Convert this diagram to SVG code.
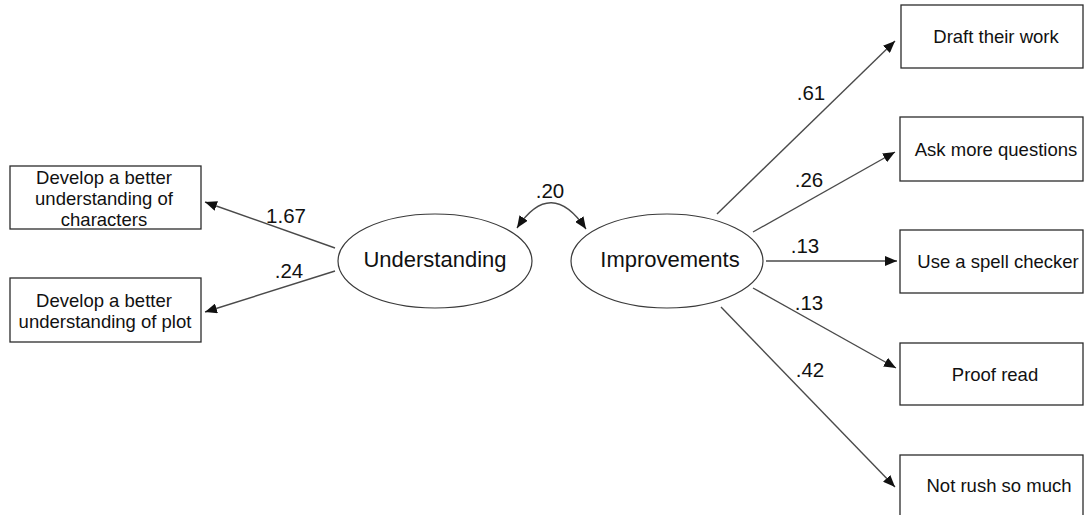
<svg xmlns="http://www.w3.org/2000/svg" width="1084" height="515" viewBox="0 0 1084 515">
  <style>
    .box { fill: #ffffff; stroke: #2b2b2b; stroke-width: 1.3; }
    .latent { fill: #ffffff; stroke: #3a3a3a; stroke-width: 1.2; }
    .boxtext { font-family: "Liberation Sans", Arial, sans-serif; font-size: 18.5px; fill: #111; text-anchor: middle; }
    .lattext { font-family: "Liberation Sans", Arial, sans-serif; font-size: 22px; fill: #111; text-anchor: middle; }
    .coef { font-family: "Liberation Sans", Arial, sans-serif; font-size: 20.5px; fill: #111; text-anchor: middle; }
    .path { fill: none; stroke: #4a4a4a; stroke-width: 1.4; marker-end: url(#head); }
  </style>
  <defs>
    <marker id="head" viewBox="0 0 12 10" refX="12" refY="5" markerWidth="12" markerHeight="10" markerUnits="userSpaceOnUse" orient="auto-start-reverse">
      <path d="M0,0 L12,5 L0,10 Z" fill="#111"/>
    </marker>
  </defs>
  <rect width="1084" height="515" fill="#ffffff"/>

  <!-- connectors -->
  <g id="connectors">
    <line class="path" x1="335" y1="248" x2="205" y2="202"/>
    <line class="path" x1="335" y1="271" x2="205" y2="312"/>
    <path class="path" d="M517,228 Q551,177 586,229" marker-start="url(#head)"/>
    <line class="path" x1="717" y1="214" x2="895" y2="41"/>
    <line class="path" x1="753" y1="232" x2="895" y2="152"/>
    <line class="path" x1="766" y1="261" x2="897" y2="261"/>
    <line class="path" x1="753" y1="288" x2="896" y2="368"/>
    <line class="path" x1="721" y1="307" x2="895" y2="487"/>
  </g>

  <!-- path coefficients -->
  <g id="coefficients">
    <text class="coef" x="286" y="223">1.67</text>
    <text class="coef" x="289" y="278">.24</text>
    <text class="coef" x="550" y="198">.20</text>
    <text class="coef" x="811" y="100">.61</text>
    <text class="coef" x="809" y="187">.26</text>
    <text class="coef" x="805" y="253">.13</text>
    <text class="coef" x="809" y="310">.13</text>
    <text class="coef" x="810" y="377">.42</text>
  </g>

  <!-- latent factors -->
  <g id="understanding">
    <ellipse class="latent" cx="435" cy="261" rx="97" ry="47"/>
    <text class="lattext" x="435" y="267">Understanding</text>
  </g>
  <g id="improvements">
    <ellipse class="latent" cx="667" cy="261" rx="96" ry="47"/>
    <text class="lattext" x="670" y="267">Improvements</text>
  </g>

  <!-- observed indicators -->
  <g id="characters">
    <rect class="box" x="10" y="166" width="191" height="63"/>
    <text class="boxtext" x="104" y="184">Develop a better</text>
    <text class="boxtext" x="104" y="205">understanding of</text>
    <text class="boxtext" x="104" y="226">characters</text>
  </g>
  <g id="plot">
    <rect class="box" x="10" y="278" width="191" height="64"/>
    <text class="boxtext" x="104" y="307">Develop a better</text>
    <text class="boxtext" x="105" y="328">understanding of plot</text>
  </g>
  <g id="draft">
    <rect class="box" x="901" y="5" width="182" height="63"/>
    <text class="boxtext" x="996" y="43">Draft their work</text>
  </g>
  <g id="questions">
    <rect class="box" x="900" y="117" width="183" height="64"/>
    <text class="boxtext" x="996" y="156">Ask more questions</text>
  </g>
  <g id="spell">
    <rect class="box" x="900" y="230" width="183" height="63"/>
    <text class="boxtext" x="998" y="268">Use a spell checker</text>
  </g>
  <g id="proofread">
    <rect class="box" x="900" y="343" width="183" height="62"/>
    <text class="boxtext" x="995" y="381">Proof read</text>
  </g>
  <g id="rush">
    <rect class="box" x="900" y="455" width="183" height="64"/>
    <text class="boxtext" x="999" y="492">Not rush so much</text>
  </g>
</svg>
